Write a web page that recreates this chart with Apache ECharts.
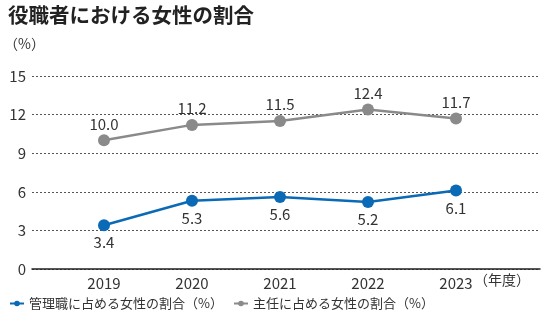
<!DOCTYPE html>
<html>
<head>
<meta charset="utf-8">
<script src="https://cdn.jsdelivr.net/npm/echarts@6/dist/echarts.min.js"></script>
<style>
  html, body { margin: 0; padding: 0; background: #fff; }
  #chart { width: 552px; height: 322px; }
</style>
</head>
<body>
<div id="chart"></div>
<script>
const years = ['2019', '2020', '2021', '2022', '2023'];
const managerShare = [3.4, 5.3, 5.6, 5.2, 6.1];
const chiefShare = [10.0, 11.2, 11.5, 12.4, 11.7];
const yTicks = [0, 3, 6, 9, 12, 15];

const FONT = '"Noto Sans CJK JP", "Noto Sans", sans-serif';
const BLUE = '#0a6ab6';
const GRAY = '#8a8a8a';
const TEXT = '#333';

const chart = echarts.init(document.getElementById('chart'));

chart.setOption({
  animation: false,
  textStyle: { fontFamily: FONT },
  graphic: [
    { type: 'text', left: 8, top: 5,
      style: { text: '役職者における女性の割合', font: 'bold 20.5px ' + FONT, fill: '#222' } },
    { type: 'text', left: 4, top: 37,
      style: { text: '（%）', font: '14px ' + FONT, fill: TEXT } },
    { type: 'text', left: 474, top: 273,
      style: { text: '（年度）', font: '14px ' + FONT, fill: TEXT } }
  ],
  legend: {
    left: 4, top: 292,
    itemWidth: 14, itemHeight: 7, itemGap: 10,
    textStyle: { fontSize: 13, color: TEXT, fontFamily: FONT },
    data: ['管理職に占める女性の割合（%）', '主任に占める女性の割合（%）']
  },
  grid: [
    { left: 32, right: 12, top: 76, bottom: 53 },
    { left: 60, right: 52, top: 76, bottom: 53 }
  ],
  xAxis: [
    { type: 'category', gridIndex: 0, data: years, boundaryGap: true,
      axisLine: { show: true, lineStyle: { color: '#222', width: 1.5 } },
      axisTick: { show: false }, axisLabel: { show: false }, splitLine: { show: false } },
    { type: 'category', gridIndex: 1, data: years, boundaryGap: true,
      axisLine: { show: false }, axisTick: { show: false },
      axisLabel: { fontSize: 15, color: TEXT, margin: 7, fontFamily: FONT } }
  ],
  yAxis: [
    { type: 'value', gridIndex: 0, min: 0, max: 15, interval: 3,
      axisLine: { show: false }, axisTick: { show: false },
      axisLabel: { fontSize: 15, color: TEXT, margin: 6, fontFamily: FONT,
        formatter: v => yTicks.includes(v) ? String(v) : '' },
      splitLine: { show: true, lineStyle: { color: '#555', type: [2, 2], width: 1 } } },
    { type: 'value', gridIndex: 1, min: 0, max: 15, interval: 3,
      axisLine: { show: false }, axisTick: { show: false },
      axisLabel: { show: false }, splitLine: { show: false } }
  ],
  series: [
    {
      name: '管理職に占める女性の割合（%）', type: 'line',
      xAxisIndex: 1, yAxisIndex: 1, data: managerShare,
      symbol: 'circle', symbolSize: 12,
      lineStyle: { color: BLUE, width: 2.5 }, itemStyle: { color: BLUE },
      label: { show: true, position: 'bottom', distance: 4, fontSize: 15, color: TEXT,
        fontFamily: FONT, formatter: p => p.value.toFixed(1) }
    },
    {
      name: '主任に占める女性の割合（%）', type: 'line',
      xAxisIndex: 1, yAxisIndex: 1, data: chiefShare,
      symbol: 'circle', symbolSize: 12,
      lineStyle: { color: GRAY, width: 2.5 }, itemStyle: { color: GRAY },
      label: { show: true, position: 'top', distance: 3, fontSize: 15, color: TEXT,
        fontFamily: FONT, formatter: p => p.value.toFixed(1) }
    }
  ]
});
</script>
</body>
</html>
